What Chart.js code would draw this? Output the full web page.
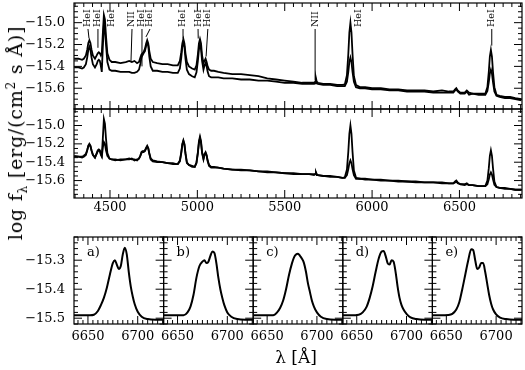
<!DOCTYPE html>
<html>
<head>
<meta charset="utf-8">
<script src="https://cdn.jsdelivr.net/npm/chart.js@4.4.1/dist/chart.umd.min.js"></script>
<style>
  html, body { margin: 0; padding: 0; background: #fff; }
  #wrap { position: relative; width: 525px; height: 370px; font-family: "DejaVu Serif", serif; color: #000; }
  #wrap canvas { position: absolute; left: 0; top: 0; }
  .axis-title { position: absolute; white-space: nowrap; font-size: 19px; }
  .axis-title sub, .axis-title sup { font-size: 12px; line-height: 0; }
  #ytitle { left: 15px; top: 133px; letter-spacing: 0.8px; transform: translate(-50%, -50%) rotate(-90deg); }
  #xtitle { left: 296px; top: 357px; transform: translate(-50%, -50%); font-size: 17px; }
</style>
</head>
<body>
<div id="wrap">
  <canvas id="top" width="525" height="370"></canvas>
  <canvas id="mid" width="525" height="370"></canvas>
  <canvas id="za" width="525" height="370"></canvas>
  <canvas id="zb" width="525" height="370"></canvas>
  <canvas id="zc" width="525" height="370"></canvas>
  <canvas id="zd" width="525" height="370"></canvas>
  <canvas id="ze" width="525" height="370"></canvas>
  <div id="ytitle" class="axis-title">log f<sub>λ</sub> [erg/(cm<sup>2</sup> s Å)]</div>
  <div id="xtitle" class="axis-title">λ [Å]</div>
</div>
<script>
// wavelength grid of the full spectra (Å)
const wave = [
  4295, 4320, 4340, 4350, 4362, 4370, 4376, 4382, 4388, 4394,
  4402, 4414, 4424, 4430, 4436, 4442, 4448, 4453, 4459, 4465,
  4471, 4477, 4485, 4497, 4510, 4530, 4560, 4590, 4610, 4625,
  4640, 4655, 4666, 4674, 4680, 4686, 4692, 4700, 4707, 4713,
  4719, 4725, 4733, 4745, 4770, 4800, 4830, 4860, 4880, 4888,
  4900, 4908, 4914, 4920, 4926, 4932, 4940, 4952, 4970, 4985,
  4995, 5003, 5009, 5015, 5021, 5027, 5035, 5041, 5047, 5053,
  5059, 5067, 5079, 5095, 5120, 5150, 5200, 5250, 5300, 5350,
  5400, 5450, 5500, 5550, 5600, 5640, 5668, 5675, 5679, 5683,
  5690, 5720, 5760, 5800, 5830, 5844, 5856, 5864, 5870, 5876,
  5882, 5888, 5896, 5908, 5930, 5960, 6000, 6050, 6100, 6150,
  6200, 6250, 6300, 6350, 6400, 6440, 6465, 6475, 6482, 6490,
  6505, 6530, 6542, 6555, 6575, 6610, 6635, 6648, 6660, 6668,
  6674, 6680, 6686, 6692, 6700, 6712, 6730, 6760, 6790, 6820,
  6855
];

// upper panel, two epochs
const topA = [
  -15.33, -15.33, -15.34, -15.33, -15.30, -15.245, -15.185, -15.16, -15.185, -15.245,
  -15.30, -15.33, -15.30, -15.28, -15.27, -15.28, -15.30, -15.28, -15.10, -14.93,
  -14.97, -15.12, -15.28, -15.34, -15.36, -15.36, -15.37, -15.36, -15.35, -15.36,
  -15.35, -15.37, -15.36, -15.32, -15.29, -15.28, -15.27, -15.24, -15.19, -15.16,
  -15.19, -15.26, -15.33, -15.36, -15.37, -15.38, -15.38, -15.39, -15.39, -15.39,
  -15.35, -15.27, -15.19, -15.15, -15.19, -15.28, -15.36, -15.40, -15.42, -15.43,
  -15.39, -15.29, -15.19, -15.15, -15.19, -15.30, -15.37, -15.35, -15.33, -15.36,
  -15.40, -15.43, -15.44, -15.44, -15.45, -15.46, -15.47, -15.47, -15.48, -15.49,
  -15.51, -15.52, -15.53, -15.54, -15.55, -15.55, -15.55, -15.54, -15.51, -15.54,
  -15.55, -15.56, -15.56, -15.57, -15.57, -15.565, -15.48, -15.285, -15.09, -15.00,
  -15.09, -15.285, -15.49, -15.57, -15.59, -15.59, -15.60, -15.60, -15.61, -15.61,
  -15.62, -15.62, -15.62, -15.63, -15.62, -15.63, -15.63, -15.61, -15.60, -15.62,
  -15.64, -15.64, -15.62, -15.64, -15.65, -15.65, -15.65, -15.65, -15.59, -15.45,
  -15.31, -15.25, -15.31, -15.45, -15.59, -15.66, -15.67, -15.68, -15.68, -15.69,
  -15.70
];
const topB = [
  -15.41, -15.41, -15.42, -15.41, -15.38, -15.315, -15.25, -15.22, -15.25, -15.315,
  -15.38, -15.41, -15.38, -15.35, -15.34, -15.35, -15.40, -15.45, -15.22, -15.02,
  -15.06, -15.20, -15.36, -15.43, -15.44, -15.44, -15.45, -15.45, -15.45, -15.46,
  -15.46, -15.45, -15.43, -15.375, -15.32, -15.30, -15.28, -15.26, -15.21, -15.18,
  -15.21, -15.31, -15.40, -15.44, -15.44, -15.45, -15.45, -15.46, -15.46, -15.46,
  -15.42, -15.32, -15.22, -15.18, -15.22, -15.33, -15.43, -15.47, -15.49, -15.50,
  -15.455, -15.35, -15.245, -15.20, -15.245, -15.35, -15.43, -15.39, -15.37, -15.40,
  -15.45, -15.49, -15.50, -15.50, -15.50, -15.51, -15.51, -15.52, -15.52, -15.53,
  -15.53, -15.54, -15.55, -15.55, -15.56, -15.56, -15.56, -15.555, -15.53, -15.555,
  -15.56, -15.57, -15.57, -15.58, -15.58, -15.58, -15.54, -15.45, -15.36, -15.32,
  -15.36, -15.45, -15.54, -15.59, -15.60, -15.60, -15.61, -15.61, -15.62, -15.62,
  -15.63, -15.63, -15.63, -15.64, -15.64, -15.64, -15.64, -15.62, -15.61, -15.63,
  -15.65, -15.65, -15.63, -15.66, -15.65, -15.66, -15.66, -15.66, -15.625, -15.545,
  -15.465, -15.43, -15.465, -15.545, -15.63, -15.67, -15.68, -15.69, -15.69, -15.70,
  -15.71
];

// middle panel, two epochs
const midA = [
  -15.34, -15.34, -15.35, -15.34, -15.32, -15.27, -15.22, -15.20, -15.22, -15.27,
  -15.32, -15.35, -15.30, -15.27, -15.26, -15.27, -15.31, -15.33, -15.14, -14.93,
  -14.98, -15.14, -15.30, -15.36, -15.37, -15.37, -15.38, -15.37, -15.36, -15.37,
  -15.37, -15.38, -15.36, -15.325, -15.29, -15.28, -15.28, -15.27, -15.24, -15.22,
  -15.245, -15.30, -15.36, -15.38, -15.39, -15.40, -15.41, -15.41, -15.42, -15.42,
  -15.38, -15.29, -15.20, -15.16, -15.20, -15.30, -15.40, -15.43, -15.44, -15.45,
  -15.40, -15.29, -15.17, -15.12, -15.17, -15.29, -15.36, -15.31, -15.29, -15.32,
  -15.38, -15.43, -15.45, -15.45, -15.46, -15.47, -15.48, -15.48, -15.49, -15.50,
  -15.50, -15.51, -15.52, -15.52, -15.53, -15.53, -15.53, -15.53, -15.51, -15.53,
  -15.54, -15.55, -15.55, -15.56, -15.57, -15.565, -15.48, -15.285, -15.09, -15.00,
  -15.09, -15.285, -15.49, -15.57, -15.58, -15.58, -15.59, -15.59, -15.60, -15.60,
  -15.61, -15.61, -15.62, -15.62, -15.62, -15.63, -15.63, -15.61, -15.60, -15.62,
  -15.64, -15.64, -15.63, -15.65, -15.65, -15.66, -15.66, -15.66, -15.60, -15.465,
  -15.33, -15.27, -15.33, -15.465, -15.61, -15.67, -15.68, -15.69, -15.69, -15.70,
  -15.70
];
const midB = [
  -15.33, -15.34, -15.34, -15.33, -15.31, -15.265, -15.225, -15.21, -15.225, -15.27,
  -15.32, -15.35, -15.31, -15.28, -15.27, -15.28, -15.32, -15.34, -15.24, -15.18,
  -15.20, -15.27, -15.33, -15.36, -15.37, -15.38, -15.37, -15.37, -15.37, -15.36,
  -15.38, -15.37, -15.36, -15.33, -15.30, -15.29, -15.29, -15.28, -15.25, -15.23,
  -15.25, -15.31, -15.37, -15.39, -15.40, -15.40, -15.41, -15.42, -15.42, -15.42,
  -15.39, -15.30, -15.21, -15.17, -15.21, -15.31, -15.41, -15.43, -15.45, -15.45,
  -15.41, -15.30, -15.19, -15.14, -15.19, -15.30, -15.37, -15.32, -15.30, -15.33,
  -15.39, -15.44, -15.46, -15.46, -15.46, -15.47, -15.48, -15.49, -15.49, -15.50,
  -15.51, -15.51, -15.52, -15.53, -15.53, -15.53, -15.54, -15.53, -15.52, -15.54,
  -15.54, -15.55, -15.56, -15.56, -15.57, -15.57, -15.54, -15.475, -15.41, -15.38,
  -15.41, -15.475, -15.54, -15.58, -15.58, -15.59, -15.59, -15.60, -15.60, -15.61,
  -15.61, -15.62, -15.62, -15.62, -15.63, -15.63, -15.63, -15.62, -15.61, -15.63,
  -15.64, -15.65, -15.64, -15.65, -15.65, -15.66, -15.66, -15.66, -15.64, -15.585,
  -15.535, -15.51, -15.535, -15.585, -15.645, -15.67, -15.68, -15.68, -15.69, -15.70,
  -15.70
];

// HeI 6678 profiles, panels a) to e)
const profWave = [
  6636, 6644, 6652, 6656, 6660, 6663, 6666, 6669, 6672, 6675,
  6677, 6679, 6681, 6683, 6685, 6687, 6689, 6691, 6693, 6695,
  6697, 6700, 6704, 6710, 6718, 6726
];
const profA = [
  -15.490, -15.490, -15.490, -15.488, -15.475, -15.455, -15.430, -15.395, -15.350, -15.310,
  -15.300, -15.315, -15.330, -15.320, -15.280, -15.257, -15.280, -15.340, -15.390, -15.425,
  -15.452, -15.478, -15.495, -15.503, -15.505, -15.505
];
const profB = [
  -15.490, -15.490, -15.490, -15.490, -15.480, -15.460, -15.420, -15.360, -15.320, -15.305,
  -15.300, -15.310, -15.305, -15.285, -15.270, -15.275, -15.310, -15.360, -15.400, -15.430,
  -15.455, -15.480, -15.495, -15.503, -15.505, -15.505
];
const profC = [
  -15.490, -15.490, -15.490, -15.490, -15.480, -15.465, -15.440, -15.400, -15.350, -15.310,
  -15.290, -15.280, -15.278, -15.285, -15.295, -15.310, -15.340, -15.380, -15.410, -15.440,
  -15.460, -15.480, -15.495, -15.503, -15.505, -15.505
];
const profD = [
  -15.490, -15.490, -15.488, -15.480, -15.460, -15.430, -15.390, -15.340, -15.295, -15.270,
  -15.268, -15.285, -15.310, -15.315, -15.300, -15.305, -15.340, -15.390, -15.430, -15.455,
  -15.470, -15.485, -15.497, -15.503, -15.505, -15.505
];
const profE = [
  -15.490, -15.490, -15.489, -15.485, -15.470, -15.445, -15.400, -15.350, -15.300, -15.262,
  -15.265, -15.300, -15.330, -15.325, -15.310, -15.310, -15.340, -15.380, -15.420, -15.450,
  -15.470, -15.487, -15.498, -15.503, -15.505, -15.505
];
const profLetters = ['a)', 'b)', 'c)', 'd)', 'e)'];

// line identifications in the upper panel
const lineNames = ['HeI', 'HeI', 'HeI', 'NII', 'HeI', 'HeI', 'HeI', 'HeI', 'HeI', 'NII', 'HeI', 'HeI'];
const lineLabelWave = [4374, 4431, 4511, 4626, 4683, 4729, 4918, 5004, 5060, 5674, 5920, 6685];
const lineMarkWave = [4380, 4431, null, 4620, 4683, 4706, 4918, 5005, 5050, 5674, null, 6685];
const lineMarkEnd = [-15.145, -15.23, null, -15.36, -15.40, -15.13, -15.145, -15.145, -15.31, -15.53, null, -15.21];

// tick labels
const wideXTicks = [4500, 5000, 5500, 6000, 6500];
const wideYTicks = [-15.6, -15.4, -15.2, -15.0];
const zoomXTicks = [6650, 6700];
const zoomYTicks = [-15.5, -15.4, -15.3];

const wideRangeX = [4294, 6858];
const wideRangeY = [-15.79, -14.82];
const zoomRangeX = [6636, 6726];
const zoomRangeY = [-15.52, -15.22];

const tickFont = '13px "DejaVu Serif", serif';
const fmt = v => v.toFixed(Math.abs(v) > 100 ? 0 : 1).replace('-', '\u2212');

// box with inward ticks on all four sides, plus tick labels
const framePlugin = {
    id: 'frame',
    afterDatasetsDraw(chart, args, opts) {
        const { ctx, chartArea: a, scales: { x, y } } = chart;
        ctx.save();
        ctx.strokeStyle = '#000';
        ctx.fillStyle = '#000';
        ctx.lineWidth = 1.2;
        ctx.strokeRect(a.left, a.top, a.right - a.left, a.bottom - a.top);
        ctx.lineWidth = 1;
        ctx.beginPath();
        const xr = Math.round(opts.xMajor / opts.xMinor);
        for (let k = Math.ceil(x.min / opts.xMinor); k * opts.xMinor <= x.max; k++) {
            const px = x.getPixelForValue(k * opts.xMinor);
            const len = k % xr === 0 ? 8 : 4;
            ctx.moveTo(px, a.bottom); ctx.lineTo(px, a.bottom - len);
            ctx.moveTo(px, a.top); ctx.lineTo(px, a.top + len);
        }
        const yr = Math.round(opts.yMajor / opts.yMinor);
        for (let k = Math.ceil(y.min / opts.yMinor - 1e-9); k * opts.yMinor <= y.max + 1e-9; k++) {
            const py = y.getPixelForValue(k * opts.yMinor);
            const len = k % yr === 0 ? 8 : 4;
            ctx.moveTo(a.left, py); ctx.lineTo(a.left + len, py);
            ctx.moveTo(a.right, py); ctx.lineTo(a.right - len, py);
        }
        ctx.stroke();

        ctx.font = tickFont;
        if (opts.xLabels) {
            ctx.textAlign = 'center';
            ctx.textBaseline = 'middle';
            opts.xLabels.forEach(v => ctx.fillText(fmt(v), x.getPixelForValue(v), a.bottom + opts.xGap));
        }
        if (opts.yLabels) {
            ctx.textAlign = 'right';
            ctx.textBaseline = 'middle';
            opts.yLabels.forEach(v => ctx.fillText(fmt(v), a.left - 9, y.getPixelForValue(v)));
        }
        if (opts.letter) {
            ctx.textAlign = 'left';
            ctx.textBaseline = 'middle';
            ctx.fillText(opts.letter, a.left + 13, a.top + 16);
        }
        ctx.restore();
    }
};

// vertical line ID labels above the spectrum
const idPlugin = {
    id: 'lineIds',
    afterDatasetsDraw(chart) {
        const { ctx, scales: { x, y } } = chart;
        const labelBottom = 27;
        ctx.save();
        ctx.fillStyle = '#000';
        ctx.strokeStyle = '#000';
        ctx.lineWidth = 1;
        ctx.font = '9.5px "DejaVu Serif", serif';
        lineNames.forEach((name, i) => {
            const lx = x.getPixelForValue(lineLabelWave[i]);
            ctx.save();
            ctx.translate(lx, labelBottom);
            ctx.rotate(-Math.PI / 2);
            ctx.textAlign = 'left';
            ctx.textBaseline = 'middle';
            ctx.fillText(name, 0, 0);
            ctx.restore();
            if (lineMarkWave[i] !== null) {
                ctx.beginPath();
                ctx.moveTo(lx, labelBottom + 2);
                ctx.lineTo(x.getPixelForValue(lineMarkWave[i]), y.getPixelForValue(lineMarkEnd[i]));
                ctx.stroke();
            }
        });
        ctx.restore();
    }
};

const curve = (xs, ys, width, smooth) => ({
    data: xs.map((w, i) => ({ x: w, y: ys[i] })),
    borderColor: '#000',
    borderWidth: width,
    pointRadius: 0,
    fill: false,
    tension: 0,
    cubicInterpolationMode: smooth ? 'monotone' : 'default'
});

function makePanel(id, pad, datasets, rx, ry, frame, extra) {
    return new Chart(document.getElementById(id), {
        type: 'line',
        data: { datasets },
        options: {
            responsive: false,
            animation: false,
            events: [],
            layout: { padding: pad },
            plugins: { legend: { display: false }, tooltip: { enabled: false }, frame },
            scales: {
                x: { type: 'linear', min: rx[0], max: rx[1], display: false },
                y: { type: 'linear', min: ry[0], max: ry[1], display: false }
            }
        },
        plugins: extra ? [framePlugin, extra] : [framePlugin]
    });
}

document.addEventListener('DOMContentLoaded', function() {
    // Upper spectrum
    makePanel('top', { left: 74, top: 3, right: 3, bottom: 261 },
        [curve(wave, topA, 1.8), curve(wave, topB, 1.8)],
        wideRangeX, wideRangeY,
        { xMajor: 500, xMinor: 50, yMajor: 0.2, yMinor: 0.05, yLabels: wideYTicks },
        idPlugin);

    // Middle spectrum
    makePanel('mid', { left: 74, top: 109, right: 3, bottom: 172 },
        [curve(wave, midA, 1.8), curve(wave, midB, 1.8)],
        wideRangeX, wideRangeY,
        { xMajor: 500, xMinor: 50, yMajor: 0.2, yMinor: 0.05, yLabels: wideYTicks, xLabels: wideXTicks, xGap: 10 });

    // HeI 6678 zoom panels
    const profiles = [profA, profB, profC, profD, profE];
    const ids = ['za', 'zb', 'zc', 'zd', 'ze'];
    const panelW = 448 / 5;
    profiles.forEach((prof, i) => {
        const left = 74 + panelW * i;
        makePanel(ids[i], { left: left, top: 237, right: 525 - left - panelW, bottom: 46 },
            [curve(profWave, prof, 2, true)],
            zoomRangeX, zoomRangeY,
            { xMajor: 50, xMinor: 5, yMajor: 0.1, yMinor: 0.02,
              yLabels: i === 0 ? zoomYTicks : null, xLabels: zoomXTicks, xGap: 13, letter: profLetters[i] });
    });
});
</script>
</body>
</html>
